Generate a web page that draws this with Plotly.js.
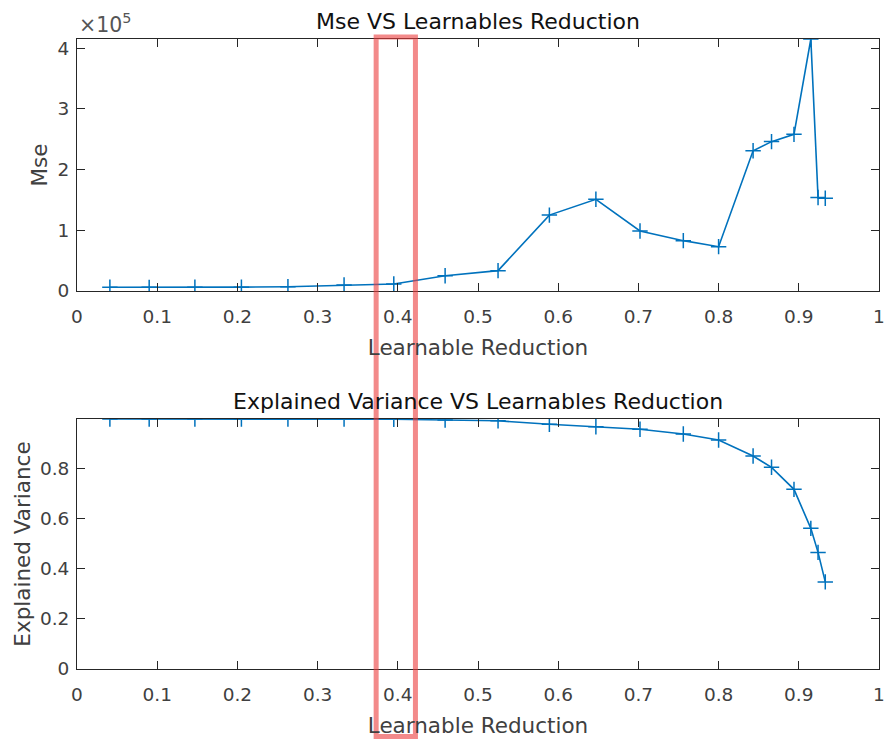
<!DOCTYPE html>
<html><head><meta charset="utf-8">
<script src="https://cdn.plot.ly/plotly-3.0.1.min.js"></script>
<style>html,body{margin:0;padding:0;background:#fff;} #chart{width:887px;height:739px;}</style>
</head><body><div id="chart"></div>
<script>
// ---- data ----
const learnableReduction = [0.041, 0.090, 0.147, 0.205, 0.263, 0.333, 0.395, 0.459, 0.525, 0.589, 0.647, 0.702, 0.756, 0.800, 0.843, 0.866, 0.894, 0.915, 0.924, 0.933];
const mseValues = [6100, 6000, 6200, 6300, 7000, 9900, 11500, 25200, 33500, 125000, 151000, 98800, 82900, 73000, 231000, 246000, 258000, 415000, 154000, 152700];
const explainedVariance = [0.999, 0.999, 0.999, 0.999, 0.999, 0.999, 0.998, 0.995, 0.992, 0.978, 0.968, 0.958, 0.939, 0.915, 0.851, 0.806, 0.718, 0.562, 0.466, 0.348];

const xTickVals = [0, 0.1, 0.2, 0.3, 0.4, 0.5, 0.6, 0.7, 0.8, 0.9, 1];
const xTickText = ['0', '0.1', '0.2', '0.3', '0.4', '0.5', '0.6', '0.7', '0.8', '0.9', '1'];
const mseTickVals = [0, 100000, 200000, 300000, 400000];
const mseTickText = ['0', '1', '2', '3', '4'];
const evTickVals = [0, 0.2, 0.4, 0.6, 0.8];
const evTickText = ['0', '0.2', '0.4', '0.6', '0.8'];
const highlightRange = [0.373, 0.422];

const FONT = 'DejaVu Sans, Liberation Sans, Arial, sans-serif';
const BLUE = '#0072BD';
const AX = '#262626';
const TXT = '#404040';

const traceStyle = {
  mode: 'lines+markers',
  line: {color: BLUE, width: 1.6},
  marker: {symbol: 'cross-thin-open', size: 11, color: BLUE, line: {color: BLUE, width: 1.5}},
  showlegend: false,
  hoverinfo: 'x+y'
};

const traces = [
  Object.assign({x: learnableReduction, y: mseValues, xaxis: 'x', yaxis: 'y'}, traceStyle),
  Object.assign({x: learnableReduction, y: explainedVariance, xaxis: 'x2', yaxis: 'y2'}, traceStyle)
];

function xAxis(anchor) {
  return {
    anchor: anchor, domain: [0, 1], range: [0, 1],
    tickmode: 'array', tickvals: xTickVals, ticktext: xTickText,
    ticks: 'inside', ticklen: 8, tickwidth: 1, tickcolor: AX,
    showline: true, linecolor: AX, linewidth: 1, mirror: 'ticks',
    showgrid: false, zeroline: false,
    ticklabelstandoff: 9,
    tickfont: {family: FONT, size: 18.5, color: TXT},
    title: {text: 'Learnable Reduction', font: {family: FONT, size: 21.5, color: TXT}, standoff: 13}
  };
}
function yAxis(anchor, domain, range, vals, text, title) {
  return {
    anchor: anchor, domain: domain, range: range,
    tickmode: 'array', tickvals: vals, ticktext: text,
    ticks: 'inside', ticklen: 8, tickwidth: 1, tickcolor: AX,
    showline: true, linecolor: AX, linewidth: 1, mirror: 'ticks',
    showgrid: false, zeroline: false,
    ticklabelstandoff: 3,
    tickfont: {family: FONT, size: 18.5, color: TXT},
    title: {text: title, font: {family: FONT, size: 21.5, color: TXT}, standoff: 3}
  };
}

const layout = {
  width: 887, height: 739,
  margin: {l: 77, r: 8, t: 39, b: 70},
  paper_bgcolor: '#fff', plot_bgcolor: '#fff',
  xaxis: xAxis('y'),
  yaxis: yAxis('x', [0.6, 1], [0, Math.max(...mseValues)], mseTickVals, mseTickText, 'Mse'),
  xaxis2: xAxis('y2'),
  yaxis2: yAxis('x2', [0, 0.3968], [0, Math.max(...explainedVariance)], evTickVals, evTickText, 'Explained Variance'),
  annotations: [
    {text: 'Mse VS Learnables Reduction', xref: 'x domain', yref: 'y domain', x: 0.5, y: 1,
     xanchor: 'center', yanchor: 'bottom', yshift: 3, showarrow: false,
     font: {family: FONT, size: 22, color: '#111'}},
    {text: 'Explained Variance VS Learnables Reduction', xref: 'x2 domain', yref: 'y2 domain', x: 0.5, y: 1,
     xanchor: 'center', yanchor: 'bottom', yshift: 3, showarrow: false,
     font: {family: FONT, size: 22, color: '#111'}},
    {text: '×10<sup>5</sup>', xref: 'x domain', yref: 'y domain', x: 0, y: 1,
     xanchor: 'left', yanchor: 'bottom', yshift: 0, showarrow: false,
     font: {family: FONT, size: 20.5, color: '#555'}}
  ],
  shapes: [
    {type: 'rect', xref: 'x', yref: 'paper', x0: highlightRange[0], x1: highlightRange[1],
     y0: -0.107, y1: 1.003, layer: 'above',
     line: {color: 'rgba(235,60,60,0.6)', width: 5}, fillcolor: 'rgba(0,0,0,0)'}
  ]
};

Plotly.newPlot('chart', traces, layout, {displayModeBar: false, staticPlot: true});
</script>
</body></html>
